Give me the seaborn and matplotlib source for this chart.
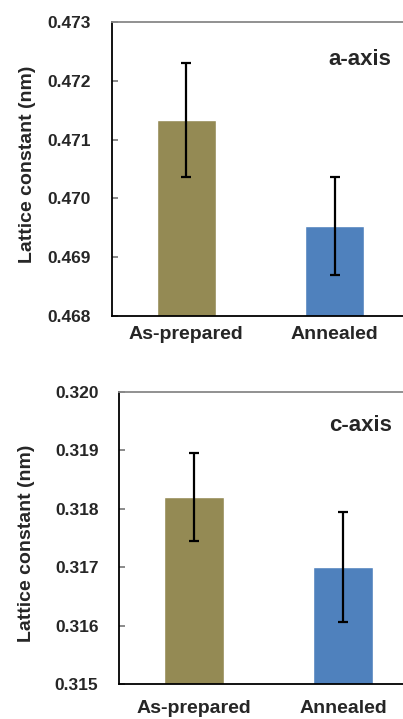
import matplotlib
matplotlib.use("Agg")
import matplotlib.pyplot as plt
import seaborn as sns
import pandas as pd

categories = ["As-prepared", "Annealed"]
a_values = [0.47133, 0.46953]
a_errors = [0.00097, 0.00084]
c_values = [0.31820, 0.31701]
c_errors = [0.00075, 0.00094]
a_ticks = [0.468, 0.469, 0.470, 0.471, 0.472, 0.473]
c_ticks = [0.315, 0.316, 0.317, 0.318, 0.319, 0.320]
colors = ["#948A54", "#4F81BD"]

sns.set_theme(style="white")
plt.rcParams['font.family'] = ['Liberation Sans', 'DejaVu Sans']
plt.rcParams['font.weight'] = 'bold'

fig = plt.figure(figsize=(4.03, 7.19), dpi=100)
ax1 = fig.add_axes([112/403, (719-316)/719, (409-112)/403, (316-22)/719])
ax2 = fig.add_axes([119.3/403, (719-684.3)/719, (417.5-119.3)/403, (684.3-392)/719])

panels = [
    (ax1, a_values, a_errors, a_ticks, "a-axis", (0.835, 0.874), (-0.283, 0.517), 7),
    (ax2, c_values, c_errors, c_ticks, "c-axis", (0.81, 0.884), (-0.31, 0.483), 11),
]

for ax, vals, errs, ticks, label, tpos, lpos, xpad in panels:
    df = pd.DataFrame({"cat": categories, "val": vals})
    sns.barplot(data=df, x="cat", y="val", hue="cat", palette=colors,
                width=0.4, errorbar=None, legend=False, ax=ax, saturation=1)
    ax.errorbar(range(len(categories)), vals, yerr=errs, fmt="none",
                ecolor="black", elinewidth=1.6, capsize=3.5, capthick=1.6)
    ax.set_xlim(-0.5, 1.5)
    ax.set_ylim(ticks[0], ticks[-1])
    ax.set_yticks(ticks)
    ax.set_yticklabels([f"{t:.3f}" for t in ticks], fontsize=12.5, fontweight='bold')
    ax.set_xticks(range(len(categories)))
    ax.set_xticklabels(categories, fontsize=14, fontweight='bold')
    ax.set_xlabel("")
    ax.set_ylabel("Lattice constant (nm)", fontsize=14, fontweight='bold')
    ax.yaxis.label.set_va('center')
    ax.yaxis.set_label_coords(*lpos)
    ax.tick_params(axis='y', direction='in', length=4, width=1.2, color='#777777',
                   pad=15, left=True)
    ax.tick_params(axis='x', length=0, pad=xpad)
    ax.spines['left'].set_color('black')
    ax.spines['left'].set_linewidth(1.3)
    ax.spines['bottom'].set_color('black')
    ax.spines['bottom'].set_linewidth(1.3)
    ax.spines['top'].set_color('#888888')
    ax.spines['top'].set_linewidth(1.3)
    ax.spines['right'].set_visible(False)
    ax.text(tpos[0], tpos[1], label, transform=ax.transAxes, ha='center', va='center',
            fontsize=16, fontweight='bold')

fig.savefig("out.png", dpi=100)
